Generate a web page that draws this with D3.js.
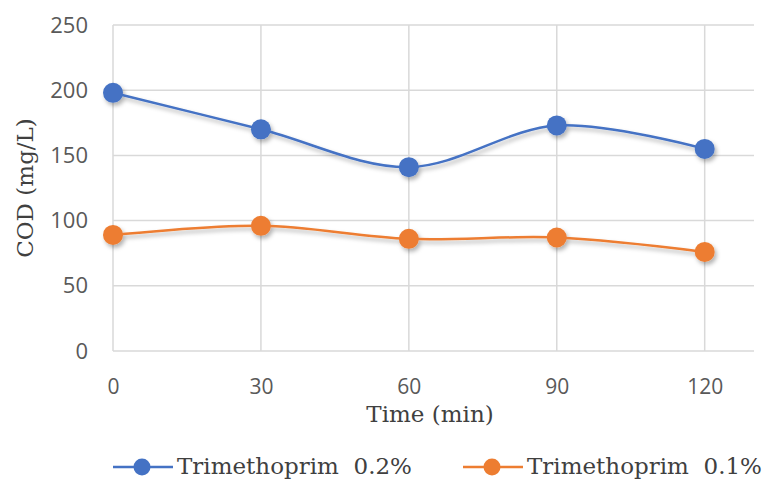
<!DOCTYPE html>
<html>
<head>
<meta charset="utf-8">
<script src="https://cdn.jsdelivr.net/npm/d3@7"></script>
<style>
  html, body { margin: 0; padding: 0; background: #fff; }
  svg { display: block; }
</style>
</head>
<body>
<svg id="chart" width="768" height="479"></svg>
<script>
// data
const times = [0, 30, 60, 90, 120];
const xTicks = [0, 30, 60, 90, 120];
const yTicks = [0, 50, 100, 150, 200, 250];
const codHigh = [198, 170, 141, 173, 155];   // Trimethoprim 0.2%
const codLow = [89, 96, 86, 87, 76];         // Trimethoprim 0.1%
const seriesNames = ['Trimethoprim  0.2%', 'Trimethoprim  0.1%'];

const blue = '#4472c4';
const orange = '#ed7d31';
const grid = '#d9d9d9';
const tickColor = '#595959';
const titleColor = '#404040';

const svg = d3.select('#chart');
const margin = { top: 25, right: 14, bottom: 128, left: 113 };
const width = 768, height = 479;

const x = d3.scaleLinear().domain([0, 130]).range([margin.left, width - margin.right]);
const y = d3.scaleLinear().domain([0, 250]).range([height - margin.bottom, margin.top]);

// soft shadow like the office chart effect
const defs = svg.append('defs');
defs.append('filter')
  .attr('id', 'shadow')
  .attr('x', '-50%').attr('y', '-50%').attr('width', '200%').attr('height', '200%')
  .append('feDropShadow')
  .attr('dx', 2).attr('dy', 3).attr('stdDeviation', 2)
  .attr('flood-color', '#000').attr('flood-opacity', 0.3);

// gridlines
svg.append('g')
  .selectAll('line')
  .data(yTicks)
  .enter().append('line')
  .attr('x1', x(0)).attr('x2', x(130))
  .attr('y1', d => y(d)).attr('y2', d => y(d))
  .attr('stroke', grid).attr('stroke-width', 1.5);

svg.append('g')
  .selectAll('line')
  .data(xTicks)
  .enter().append('line')
  .attr('x1', d => x(d)).attr('x2', d => x(d))
  .attr('y1', y(0)).attr('y2', y(250))
  .attr('stroke', grid).attr('stroke-width', 1.5);

// axes (labels only)
const yAxis = svg.append('g')
  .attr('transform', `translate(${x(0) - 25},0)`)
  .call(d3.axisLeft(y).tickValues(yTicks).tickSize(0).tickPadding(0));
yAxis.select('.domain').remove();
yAxis.selectAll('text')
  .attr('fill', tickColor)
  .style('font-family', '"Open Sans", "Liberation Sans", sans-serif')
  .style('font-size', '22px');

const xAxis = svg.append('g')
  .attr('transform', `translate(0,${y(0) + 28})`)
  .call(d3.axisBottom(x).tickValues(xTicks).tickSize(0).tickPadding(0));
xAxis.select('.domain').remove();
xAxis.selectAll('text')
  .attr('fill', tickColor)
  .style('font-family', '"Open Sans", "Liberation Sans", sans-serif')
  .style('font-size', '21px');

// axis titles
svg.append('text')
  .attr('x', 430).attr('y', 422)
  .attr('text-anchor', 'middle')
  .attr('fill', titleColor)
  .style('font-family', '"DejaVu Serif", serif')
  .style('font-size', '23px')
  .text('Time (min)');

svg.append('text')
  .attr('transform', 'translate(33,188) rotate(-90)')
  .attr('text-anchor', 'middle')
  .attr('fill', titleColor)
  .style('font-family', '"DejaVu Serif", serif')
  .style('font-size', '23px')
  .text('COD (mg/L)');

// lines + markers
const line = d3.line()
  .x((d, i) => x(times[i]))
  .y(d => y(d))
  .curve(d3.curveCardinal.tension(0));

const series = [
  { name: seriesNames[0], values: codHigh, color: blue },
  { name: seriesNames[1], values: codLow, color: orange }
];

series.forEach(s => {
  const g = svg.append('g').attr('filter', 'url(#shadow)');
  g.append('path')
    .datum(s.values)
    .attr('d', line)
    .attr('fill', 'none')
    .attr('stroke', s.color)
    .attr('stroke-width', 2.5);
  g.selectAll('circle')
    .data(s.values)
    .enter().append('circle')
    .attr('cx', (d, i) => x(times[i]))
    .attr('cy', d => y(d))
    .attr('r', 10)
    .attr('fill', s.color);
});

// legend
const legendX = [113, 463];
const legend = svg.append('g');
series.forEach((s, i) => {
  const lg = legend.append('g').attr('transform', `translate(${legendX[i]},467)`);
  lg.append('line')
    .attr('x1', 0).attr('x2', 60)
    .attr('stroke', s.color).attr('stroke-width', 2.5);
  lg.append('circle')
    .attr('cx', 29).attr('r', 8.5)
    .attr('fill', s.color);
  lg.append('text')
    .attr('x', 64).attr('y', 7)
    .attr('fill', titleColor)
    .style('font-family', '"DejaVu Serif", serif')
    .style('font-size', '23px')
    .style('white-space', 'pre')
    .text(s.name);
});
</script>
</body>
</html>
